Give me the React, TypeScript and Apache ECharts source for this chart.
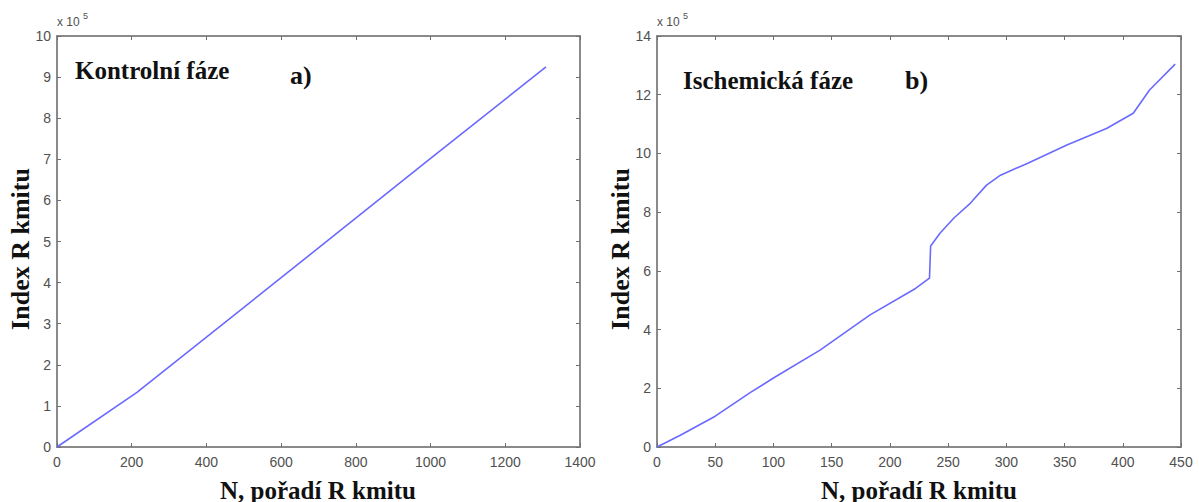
import React, { useEffect, useRef } from "react";
import * as echarts from "echarts";

// Left panel: Kontrolní fáze (N vs index, raw sample index)
const controlN = [0, 214, 600, 1000, 1309];
const controlIdx = [0, 133000, 412000, 702000, 925000];

// Right panel: Ischemická fáze
const ischN = [0, 20, 50, 80, 100, 140, 183, 222, 234, 235, 243, 255, 269, 283, 295, 318, 352, 386, 409, 423, 445];
const ischIdx = [0, 40000, 105000, 185000, 235000, 330000, 450000, 540000, 575000, 685000, 728000, 780000, 830000, 892000, 926000, 966000, 1029000, 1085000, 1137000, 1216000, 1304000];

const leftXTicks = { min: 0, max: 1400, interval: 200 };
const leftYTicks = { min: 0, max: 1000000, interval: 100000 };
const rightXTicks = { min: 0, max: 450, interval: 50 };
const rightYTicks = { min: 0, max: 1400000, interval: 200000 };

const LINE = "#6a6aff";
const AXIS = "#8a8a8a";
const LABEL = "#505050";
const SERIF = "'Liberation Serif', 'Times New Roman', serif";
const SANS = "'Liberation Sans', Arial, sans-serif";

function xAxes(gridIndex: number, t: { min: number; max: number; interval: number }) {
  const common = {
    type: "value" as const,
    gridIndex,
    min: t.min,
    max: t.max,
    interval: t.interval,
    splitLine: { show: false },
    axisLine: { show: true, onZero: false, lineStyle: { color: AXIS, width: 2 } },
    axisTick: { show: true, inside: true, length: 4, lineStyle: { color: "#707070", width: 1 } },
  };
  return [
    {
      ...common,
      position: "bottom",
      axisLabel: {
        show: true, color: LABEL, fontFamily: SANS, fontSize: 14, margin: 8,
        showMaxLabel: true, showMinLabel: true,
        formatter: (v: number) => String(v),
      },
    },
    { ...common, position: "top", axisLabel: { show: false } },
  ];
}

function yAxes(gridIndex: number, t: { min: number; max: number; interval: number }) {
  const common = {
    type: "value" as const,
    gridIndex,
    min: t.min,
    max: t.max,
    interval: t.interval,
    splitLine: { show: false },
    axisLine: { show: true, onZero: false, lineStyle: { color: AXIS, width: 2 } },
    axisTick: { show: true, inside: true, length: 4, lineStyle: { color: "#707070", width: 1 } },
  };
  return [
    {
      ...common,
      position: "left",
      axisLabel: {
        show: true,
        color: LABEL,
        fontFamily: SANS,
        fontSize: 14,
        margin: 6,
        formatter: (v: number) => String(Math.round(v / 100000)),
      },
    },
    { ...common, position: "right", axisLabel: { show: false } },
  ];
}

export default function App() {
  const ref = useRef<HTMLDivElement>(null);
  useEffect(() => {
    if (!ref.current) return;
    const chart = echarts.init(ref.current, undefined, { renderer: "svg" });
    const titleStyle = { fontFamily: SERIF, fontWeight: "bold", fill: "#111111" };
    chart.setOption({
      animation: false,
      backgroundColor: "#ffffff",
      grid: [
        { left: 57, top: 36, width: 523, height: 411 },
        { left: 657, top: 36, width: 524, height: 411 },
      ],
      xAxis: [...xAxes(0, leftXTicks), ...xAxes(1, rightXTicks)],
      yAxis: [...yAxes(0, leftYTicks), ...yAxes(1, rightYTicks)],
      series: [
        {
          type: "line",
          xAxisIndex: 0,
          yAxisIndex: 0,
          data: controlN.map((n, i) => [n, controlIdx[i]]),
          showSymbol: false,
          lineStyle: { color: LINE, width: 1.6 },
          smooth: false,
        },
        {
          type: "line",
          xAxisIndex: 2,
          yAxisIndex: 2,
          data: ischN.map((n, i) => [n, ischIdx[i]]),
          showSymbol: false,
          lineStyle: { color: LINE, width: 1.6 },
          smooth: false,
        },
      ],
      graphic: [
        // exponent labels
        { type: "text", left: 57, top: 16, style: { text: "x 10", fontFamily: SANS, fontSize: 12, fill: LABEL } },
        { type: "text", left: 83, top: 11, style: { text: "5", fontFamily: SANS, fontSize: 9, fill: LABEL } },
        { type: "text", left: 657, top: 16, style: { text: "x 10", fontFamily: SANS, fontSize: 12, fill: LABEL } },
        { type: "text", left: 683, top: 11, style: { text: "5", fontFamily: SANS, fontSize: 9, fill: LABEL } },
        // annotations
        { type: "text", x: 75, y: 70, style: { ...titleStyle, text: "Kontrolní fáze", fontSize: 25, align: "left", verticalAlign: "middle" } },
        { type: "text", x: 290, y: 75, style: { ...titleStyle, text: "a)", fontSize: 26, align: "left", verticalAlign: "middle" } },
        { type: "text", x: 683, y: 80, style: { ...titleStyle, text: "Ischemická fáze", fontSize: 25, align: "left", verticalAlign: "middle" } },
        { type: "text", x: 905, y: 80, style: { ...titleStyle, text: "b)", fontSize: 26, align: "left", verticalAlign: "middle" } },
        // axis titles
        { type: "text", x: 318, y: 490, style: { ...titleStyle, text: "N, pořadí R kmitu", fontSize: 25, align: "center", verticalAlign: "middle" } },
        { type: "text", x: 919, y: 490, style: { ...titleStyle, text: "N, pořadí R kmitu", fontSize: 25, align: "center", verticalAlign: "middle" } },
        { type: "text", x: 20, y: 249, rotation: Math.PI / 2, style: { ...titleStyle, text: "Index R kmitu", fontSize: 26, align: "center", verticalAlign: "middle" } },
        { type: "text", x: 620, y: 249, rotation: Math.PI / 2, style: { ...titleStyle, text: "Index R kmitu", fontSize: 26, align: "center", verticalAlign: "middle" } },
      ],
    });
    return () => chart.dispose();
  }, []);
  return <div ref={ref} style={{ position: "absolute", left: 0, top: 0, width: 1199, height: 502 }} />;
}
